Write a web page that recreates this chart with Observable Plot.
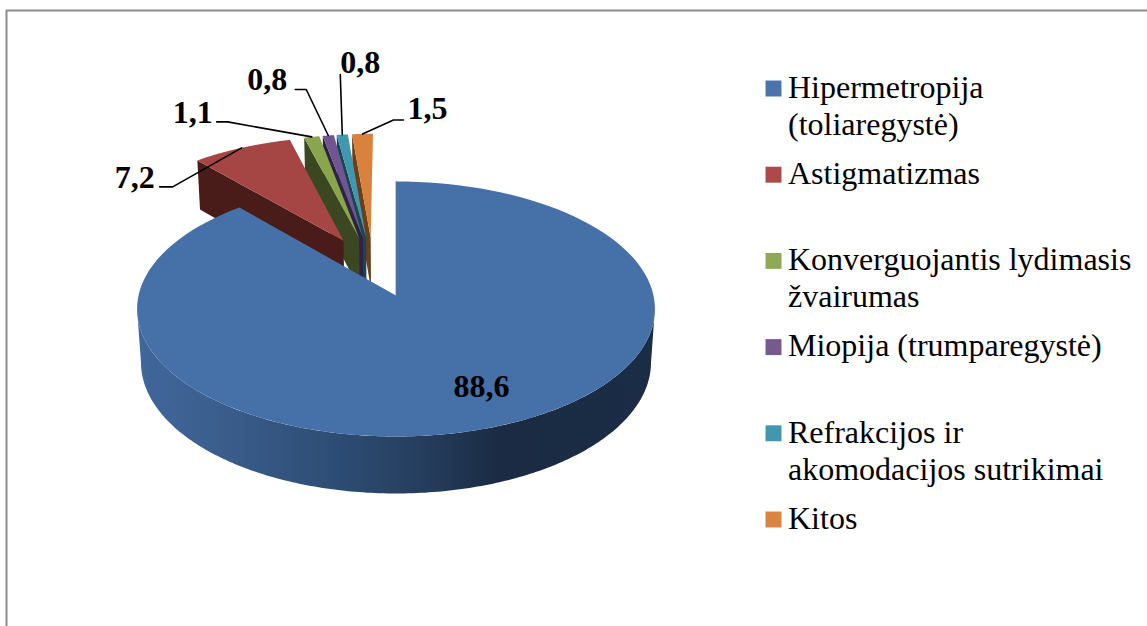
<!DOCTYPE html>
<html>
<head>
<meta charset="utf-8">
<script src="https://cdn.jsdelivr.net/npm/d3@7"></script>
<script src="https://cdn.jsdelivr.net/npm/@observablehq/plot@0.6"></script>
<style>html,body{margin:0;padding:0;background:#fff}svg{display:block}</style>
</head>
<body>
<div id="chart"></div>
<script>
// Data
const categories = ["Hipermetropija (toliaregystė)", "Astigmatizmas", "Konverguojantis lydimasis žvairumas", "Miopija (trumparegystė)", "Refrakcijos ir akomodacijos sutrikimai", "Kitos"];
const legendLabels = ["Hipermetropija\n(toliaregystė)", "Astigmatizmas", "Konverguojantis lydimasis\nžvairumas", "Miopija (trumparegystė)", "Refrakcijos ir\nakomodacijos sutrikimai", "Kitos"];
const values = [88.6, 7.2, 1.1, 0.8, 0.8, 1.5];
const valueLabels = ["88,6", "7,2", "1,1", "0,8", "0,8", "1,5"];

// Styles
const topColors = ["#4570a8", "#a64644", "#8aa64d", "#6f5591", "#3f97b0", "#d8823e"];
const faceColors = ["#26405f", "#4a1c19", "#3b4720", "#2e2340", "#1a4653", "#6b3f17"];
const legendColors = ["#4a74ab", "#ab4a48", "#8fa955", "#75598f", "#4296ad", "#d9853f"];

// Layout: camera of the tilted pie
const W = 1147, H = 626;
const cam = {x: 395.5, y: 295, a: 126.06, b: 257.5, k: 0.1058, m: 0.0153, drop: 54, explodeX: 0.26, explodeY: 0.25};
// Leader elbows and label anchors, relative to the rim point of each slice
const leaders = [
  null,
  {elbow: [-69, 39], end: [-82, 39], label: [-107, 30]},
  {elbow: [-84, -15], end: [-95, -15], label: [-119, -24]},
  {elbow: [-22, -46], end: [-33, -46], label: [-61, -56]},
  {elbow: [-2, -60], end: [-2, -60], label: [18, -72]},
  {elbow: [31, -14], end: [41, -14], label: [65, -25]}
];
const piePoint = [481, 386];
const legend = {swatchX: 773, textX: 787.5, top: 88, step: 86.2, r: 9, size: 32, line: 37};

// Slice geometry from the values
const rad = Math.PI / 180;
const arcs = d3.pie().sort(null).startAngle(0).endAngle(2 * Math.PI)(values);
const mids = arcs.map(d => (d.startAngle + d.endAngle) / 2);
const off = mids.map(t => [cam.explodeX * (Math.sin(t) - Math.sin(mids[0])), cam.explodeY * (Math.cos(t) - Math.cos(mids[0]))]);
function project(i, t, r, lower) {
  const X = r * Math.sin(t) + off[i][0];
  const Y = r * Math.cos(t) + off[i][1];
  const w = 1 + cam.k * Y + (lower ? cam.m : 0);
  return {x: cam.x + cam.b * X / w, y: cam.y + (-cam.a * Y + (lower ? cam.drop : 0)) / w};
}
const steps = (a, b, n = 120) => d3.range(n + 1).map(j => a + (b - a) * j / n);
const topFace = i => [project(i, 0, 0, false), ...steps(arcs[i].startAngle, arcs[i].endAngle).map(t => project(i, t, 1, false))];
const cutFace = i => [project(i, 0, 0, false), project(i, arcs[i].startAngle, 1, false), project(i, arcs[i].startAngle, 1, true), project(i, 0, 0, true)];
const poly = (pts, fill) => Plot.line(pts, {x: "x", y: "y", fill, stroke: "none"});

const marks = [];
marks.push(() => {
  const defs = d3.create("svg:defs");
  const g = defs.append("linearGradient").attr("id", "wallBlue").attr("gradientUnits", "userSpaceOnUse")
    .attr("x1", 141).attr("x2", 651).attr("y1", 0).attr("y2", 0);
  [[0, "#40669a"], [0.12, "#3c6090"], [0.35, "#2f4f77"], [0.55, "#253e5e"], [0.7, "#1a2b43"], [1, "#1b2d46"]]
    .forEach(([o, c]) => g.append("stop").attr("offset", o).attr("stop-color", c));
  return defs.node();
});

// Frame of the chart area
marks.push(Plot.ruleY([10], {x1: 6, x2: W, stroke: "#8c8c8c", strokeWidth: 2}));
marks.push(Plot.ruleX([6], {y1: 10, y2: H, stroke: "#8c8c8c", strokeWidth: 2}));

// Small slices and red, back to front
for (let i = arcs.length - 1; i >= 1; --i) {
  marks.push(poly(cutFace(i), faceColors[i]));
  marks.push(poly(topFace(i), topColors[i]));
}
// Blue slice: wall then top
const wallAngles = steps(96 * rad, 264 * rad, 200);
marks.push(poly([...wallAngles.map(t => project(0, t, 1, false)), ...wallAngles.slice().reverse().map(t => project(0, t, 1, true))], "url(#wallBlue)"));
marks.push(Plot.line([project(0, 0, 1, false), project(0, 0, 0, false)], {x: "x", y: "y", stroke: "#8f9bab", strokeWidth: 1}));
marks.push(poly(topFace(0), topColors[0]));

// Leaders and value labels
const labelRows = [{text: valueLabels[0], x: piePoint[0], y: piePoint[1]}];
leaders.forEach((l, i) => {
  if (!l) return;
  const rim = project(i, mids[i], 1, false);
  marks.push(Plot.line([rim, {x: rim.x + l.elbow[0], y: rim.y + l.elbow[1]}, {x: rim.x + l.end[0], y: rim.y + l.end[1]}], {x: "x", y: "y", stroke: "#000", strokeWidth: 1.6}));
  labelRows.push({text: valueLabels[i], x: rim.x + l.label[0], y: rim.y + l.label[1]});
});
marks.push(Plot.text(labelRows, {x: "x", y: "y", text: "text", fontFamily: "Liberation Serif", fontWeight: "bold", fontSize: 32, fill: "#000", textAnchor: "middle"}));

// Legend
const legendRows = categories.map((name, i) => ({name, label: legendLabels[i], color: legendColors[i], y: legend.top + i * legend.step}));
marks.push(Plot.dot(legendRows, {x: () => legend.swatchX, y: "y", symbol: "square", r: legend.r, fill: d => d.color, stroke: "none"}));
marks.push(Plot.text(legendRows, {x: () => legend.textX, y: "y", text: "label", textAnchor: "start", lineAnchor: "top", dy: -17, lineHeight: legend.line / legend.size, fontFamily: "Liberation Serif", fontSize: legend.size, fill: "#000"}));

const chart = Plot.plot({
  width: W, height: H, margin: 0,
  x: {domain: [0, W], range: [0, W], axis: null},
  y: {domain: [0, H], range: [0, H], axis: null},
  color: {type: "identity"},
  style: {background: "#fff"},
  marks
});
document.getElementById("chart").append(chart);
</script>
</body>
</html>
